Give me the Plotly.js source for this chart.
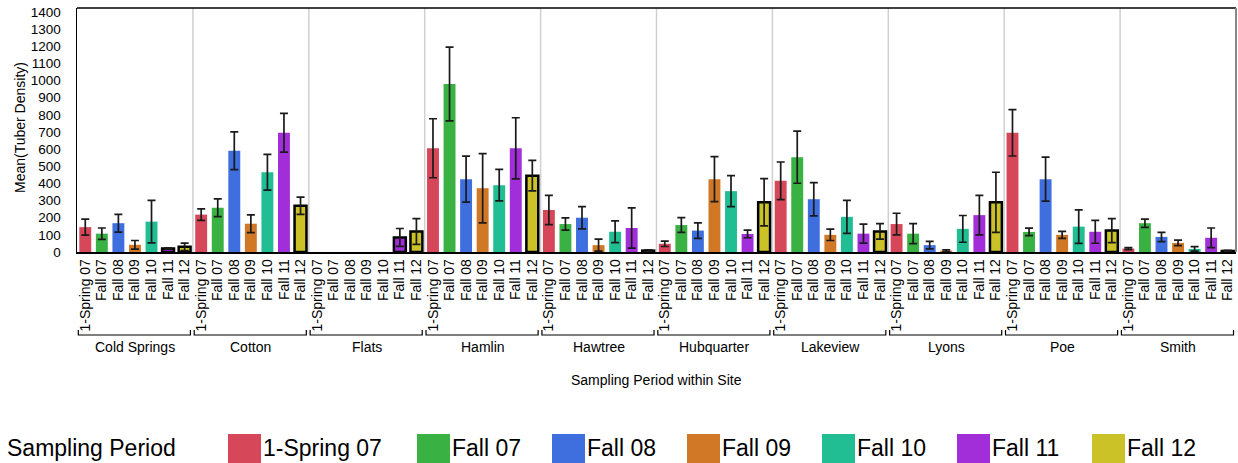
<!DOCTYPE html>
<html>
<head>
<meta charset="utf-8">
<script src="https://cdn.plot.ly/plotly-3.0.1.min.js"></script>
<style>html,body{margin:0;padding:0;background:#fff;}#chart{width:1238px;height:463px;}</style>
</head>
<body>
<div id="chart"></div>
<script>
const sites = ["Cold Springs","Cotton","Flats","Hamlin","Hawtree","Hubquarter","Lakeview","Lyons","Poe","Smith"];
const periods = ["1-Spring 07","Fall 07","Fall 08","Fall 09","Fall 10","Fall 11","Fall 12"];
const colors = ["#D6475A","#3AB143","#3F6FDE","#D07826","#21BE93","#A12ED9","#CBC228"];

// Mean tuber density per site, one array per sampling period
const spring07 = [145, 218, null, 605, 245, 48, 415, 163, 695, 20];
const fall07   = [107, 258, null, 980, 163, 157, 553, 107, 117, 168];
const fall08   = [168, 590, null, 425, 200, 125, 308, 40, 425, 88];
const fall09   = [42, 165, null, 372, 40, 425, 100, 8, 100, 53];
const fall10   = [177, 465, null, 390, 118, 355, 205, 135, 148, 18];
const fall11   = [20, 695, 85, 605, 140, 105, 107, 215, 118, 83];
const fall12   = [30, 270, 120, 445, 8, 290, 120, 290, 125, 6];

// Error bar half-lengths
const errSpring07 = [47, 33, 0, 172, 85, 16, 110, 63, 135, 6];
const errFall07   = [33, 52, 0, 215, 36, 43, 152, 58, 22, 24];
const errFall08   = [52, 110, 0, 134, 65, 45, 97, 22, 128, 27];
const errFall09   = [25, 52, 0, 202, 35, 131, 33, 5, 20, 16];
const errFall10   = [124, 104, 0, 92, 63, 90, 96, 78, 98, 13];
const errFall11   = [4, 113, 52, 178, 117, 22, 55, 115, 67, 57];
const errFall12   = [22, 50, 75, 89, 5, 138, 45, 175, 70, 3];

// Which bars are drawn with a black outline (highlighted)
const outlinedFall11 = ["Cold Springs","Flats"];

const series = [spring07, fall07, fall08, fall09, fall10, fall11, fall12];
const errors = [errSpring07, errFall07, errFall08, errFall09, errFall10, errFall11, errFall12];

const W = 1238, H = 463;
const M = {l: 77, r: 2, t: 8, b: 211};
const pw = W - M.l - M.r, ph = H - M.t - M.b;
const px = x => (x - M.l) / pw;
const py = y => (H - M.b - y) / ph;

const nP = periods.length;
const traces = periods.map((p, j) => {
  const xs = sites.map((s, i) => i * nP + j);
  let lw;
  if (j === nP - 1) {
    lw = sites.map(() => 2.5);
  } else if (j === 5) {
    lw = sites.map(s => outlinedFall11.includes(s) ? 2.5 : 0);
  } else {
    lw = sites.map(() => 0);
  }
  return {
    type: "bar",
    name: p,
    x: xs,
    y: series[j],
    width: 0.72,
    marker: {color: colors[j], line: {color: "#000", width: lw}},
    error_y: {type: "data", array: errors[j], visible: true, color: "#1a1a1a", thickness: 1.7, width: 4},
    showlegend: false,
    hoverinfo: "x+y"
  };
});

const tickvals = [], ticktext = [];
sites.forEach((s, i) => periods.forEach((p, j) => { tickvals.push(i * nP + j); ticktext.push(p); }));

const shapes = [];
const annotations = [];
// group separators
for (let i = 1; i < sites.length; i++) {
  shapes.push({type: "line", xref: "x", yref: "paper", x0: i * nP - 0.5, x1: i * nP - 0.5, y0: 0, y1: 1,
    line: {color: "#d0d0d0", width: 1.5}, layer: "below"});
}
// frame top and right
shapes.push({type: "line", xref: "paper", yref: "paper", x0: 0, x1: 1, y0: 1, y1: 1, line: {color: "#000", width: 1.5}});
shapes.push({type: "line", xref: "paper", yref: "paper", x0: 1, x1: 1, y0: 0, y1: 1, line: {color: "#888", width: 2}});
// brackets and group labels
sites.forEach((s, i) => {
  const a = i * nP - 0.5 + 0.08, b = i * nP + nP - 0.5 - 0.15;
  const yt = py(330), yb = py(335);
  shapes.push({type: "path", xref: "x", yref: "paper",
    path: `M ${a} ${yt} L ${a} ${yb} L ${b} ${yb} L ${b} ${yt}`,
    line: {color: "#000", width: 1.2}});
  annotations.push({xref: "x", yref: "paper", x: i * nP + (nP - 1) / 2, y: py(347), text: s, showarrow: false,
    xanchor: "center", yanchor: "middle", font: {size: 14, color: "#000"}});
});
// axis titles
annotations.push({xref: "paper", yref: "paper", x: 0.5, y: py(380), text: "Sampling Period within Site", showarrow: false,
  xanchor: "center", yanchor: "middle", font: {size: 14, color: "#000"}});
annotations.push({xref: "paper", yref: "paper", x: px(20), y: py(128), text: "Mean(Tuber Density)", showarrow: false,
  textangle: -90, xanchor: "center", yanchor: "middle", font: {size: 14, color: "#000"}});
// legend
annotations.push({xref: "paper", yref: "paper", x: px(5), y: py(448), text: "Sampling Period", showarrow: false,
  xanchor: "left", yanchor: "middle", font: {size: 23, color: "#000"}});
const legX = [228, 417, 552, 687, 822, 957, 1092];
periods.forEach((p, j) => {
  shapes.push({type: "rect", xref: "paper", yref: "paper", x0: px(legX[j]), x1: px(legX[j] + 33), y0: py(434), y1: py(464),
    fillcolor: colors[j], line: {width: 0}});
  annotations.push({xref: "paper", yref: "paper", x: px(legX[j] + 33), y: py(448), text: p, showarrow: false,
    xanchor: "left", yanchor: "middle", font: {size: 23, color: "#000"}});
});

const layout = {
  width: W, height: H,
  margin: M,
  paper_bgcolor: "#fff", plot_bgcolor: "#fff",
  font: {family: "Liberation Sans, Arial, sans-serif", color: "#000", size: 13},
  barmode: "overlay",
  showlegend: false,
  xaxis: {
    range: [-0.5, sites.length * nP - 0.5],
    tickmode: "array", tickvals: tickvals, ticktext: ticktext,
    tickangle: -90, tickfont: {size: 14, color: "#000"},
    showline: true, linecolor: "#000", linewidth: 1.5,
    showgrid: false, zeroline: false, ticks: "", fixedrange: true
  },
  yaxis: {
    range: [0, 1423], dtick: 100, tick0: 0,
    tickfont: {size: 13.5, color: "#000"},
    showline: true, linecolor: "#000", linewidth: 1.5,
    showgrid: false, zeroline: false, ticks: "", ticklabelstandoff: 12
  },
  shapes: shapes,
  annotations: annotations
};

Plotly.newPlot("chart", traces, layout, {displayModeBar: false, staticPlot: true});
</script>
</body>
</html>
